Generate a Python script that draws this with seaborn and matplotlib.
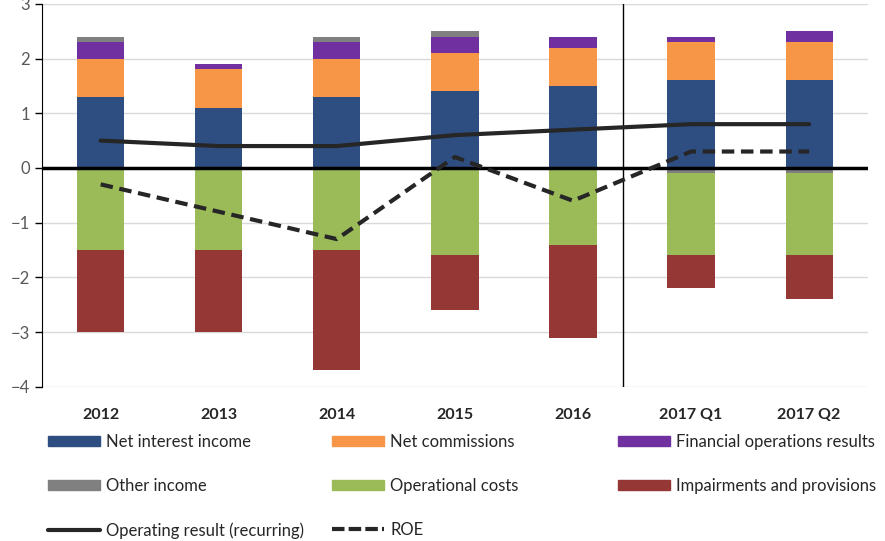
import numpy as np
import matplotlib
matplotlib.use('Agg')
import matplotlib.pyplot as plt
from matplotlib.patches import Patch
from matplotlib.lines import Line2D
import seaborn as sns

# Data (percent of assets)
periods = ['2012', '2013', '2014', '2015', '2016', '2017 Q1', '2017 Q2']
net_interest = [1.3, 1.1, 1.3, 1.4, 1.5, 1.6, 1.6]
net_commissions = [0.7, 0.7, 0.7, 0.7, 0.7, 0.7, 0.7]
fin_operations = [0.3, 0.1, 0.3, 0.3, 0.2, 0.1, 0.2]
other_income = [0.1, 0.0, 0.1, 0.1, 0.0, -0.1, -0.1]
op_costs = [-1.5, -1.5, -1.5, -1.6, -1.4, -1.5, -1.5]
impairments = [-1.5, -1.5, -2.2, -1.0, -1.7, -0.6, -0.8]
op_result = [0.5, 0.4, 0.4, 0.6, 0.7, 0.8, 0.8]
roe = [-0.3, -0.8, -1.3, 0.2, -0.6, 0.3, 0.3]

colors = {
    'nii': '#2E4E82', 'nc': '#F79646', 'fo': '#7030A0',
    'oth': '#808080', 'cost': '#9BBB59', 'imp': '#953735',
}

sns.set_style('white')
plt.rcParams['font.family'] = ['Lato', 'DejaVu Sans']

nii = np.array(net_interest)
nc = np.array(net_commissions)
fo = np.array(fin_operations)
oth = np.array(other_income)
oth_pos = np.clip(oth, 0, None)
oth_neg = np.clip(oth, None, 0)
cost = np.array(op_costs)
imp = np.array(impairments)

fig = plt.figure(figsize=(8.85, 5.41), dpi=100)
ax = fig.add_axes([0.047, 0.285, 0.934, 0.708])

bw = 0.4
kw = dict(ax=ax, width=bw, saturation=1, edgecolor='none', zorder=2)
# positive stack, drawn from the top layer down
sns.barplot(x=periods, y=nii + nc + fo + oth_pos, color=colors['oth'], **kw)
sns.barplot(x=periods, y=nii + nc + fo, color=colors['fo'], **kw)
sns.barplot(x=periods, y=nii + nc, color=colors['nc'], **kw)
sns.barplot(x=periods, y=nii, color=colors['nii'], **kw)
# negative stack
sns.barplot(x=periods, y=oth_neg + cost + imp, color=colors['imp'], **kw)
sns.barplot(x=periods, y=oth_neg + cost, color=colors['cost'], **kw)
sns.barplot(x=periods, y=oth_neg, color=colors['oth'], **kw)

line_c = '#262626'
sns.lineplot(x=periods, y=op_result, sort=False, color=line_c, lw=3,
             ax=ax, zorder=4)
sns.lineplot(x=periods, y=roe, sort=False, color=line_c, lw=3,
             ax=ax, zorder=4, dashes=False, linestyle=(0, (3, 1.6)))

ax.axhline(0, color='black', lw=2.5, zorder=3)
ax.axvline(4.42, color='black', lw=1, zorder=3)

ax.set_ylim(-4, 3)
ax.set_xlim(-0.5, 6.5)
ax.set_yticks(range(-4, 4))
ax.yaxis.grid(True, color='#D9D9D9', lw=1)
ax.set_axisbelow(True)
for s in ['top', 'right', 'bottom']:
    ax.spines[s].set_visible(False)
ax.spines['left'].set_color('black')
ax.tick_params(axis='y', left=True, length=5, width=1, colors='black',
               labelcolor='#595959', labelsize=12)
ax.tick_params(axis='x', bottom=False, labelsize=11.5, pad=12)
for lbl in ax.get_xticklabels():
    lbl.set_fontweight('bold')
ax.set_xlabel('')
ax.set_ylabel('')

# legend: three columns, placed separately
leg_kw = dict(frameon=False, fontsize=12, handlelength=3.1, handleheight=0.6,
              labelspacing=1.68, handletextpad=0.4, borderpad=0,
              borderaxespad=0, loc='upper left')
cols = [
    ([Patch(color=colors['nii']), Patch(color=colors['oth']),
      Line2D([], [], color=line_c, lw=3)],
     ['Net interest income', 'Other income', 'Operating result (recurring)'], 48),
    ([Patch(color=colors['nc']), Patch(color=colors['cost']),
      Line2D([], [], color=line_c, lw=3, linestyle=(0, (3, 1)))],
     ['Net commissions', 'Operational costs', 'ROE'], 332),
    ([Patch(color=colors['fo']), Patch(color=colors['imp'])],
     ['Financial operations results', 'Impairments and provisions'], 618),
]
for handles, labels, xpx in cols:
    fig.legend(handles, labels, bbox_to_anchor=(xpx / 885, 1 - 434 / 541), **leg_kw)

fig.savefig('out.png', dpi=100)
